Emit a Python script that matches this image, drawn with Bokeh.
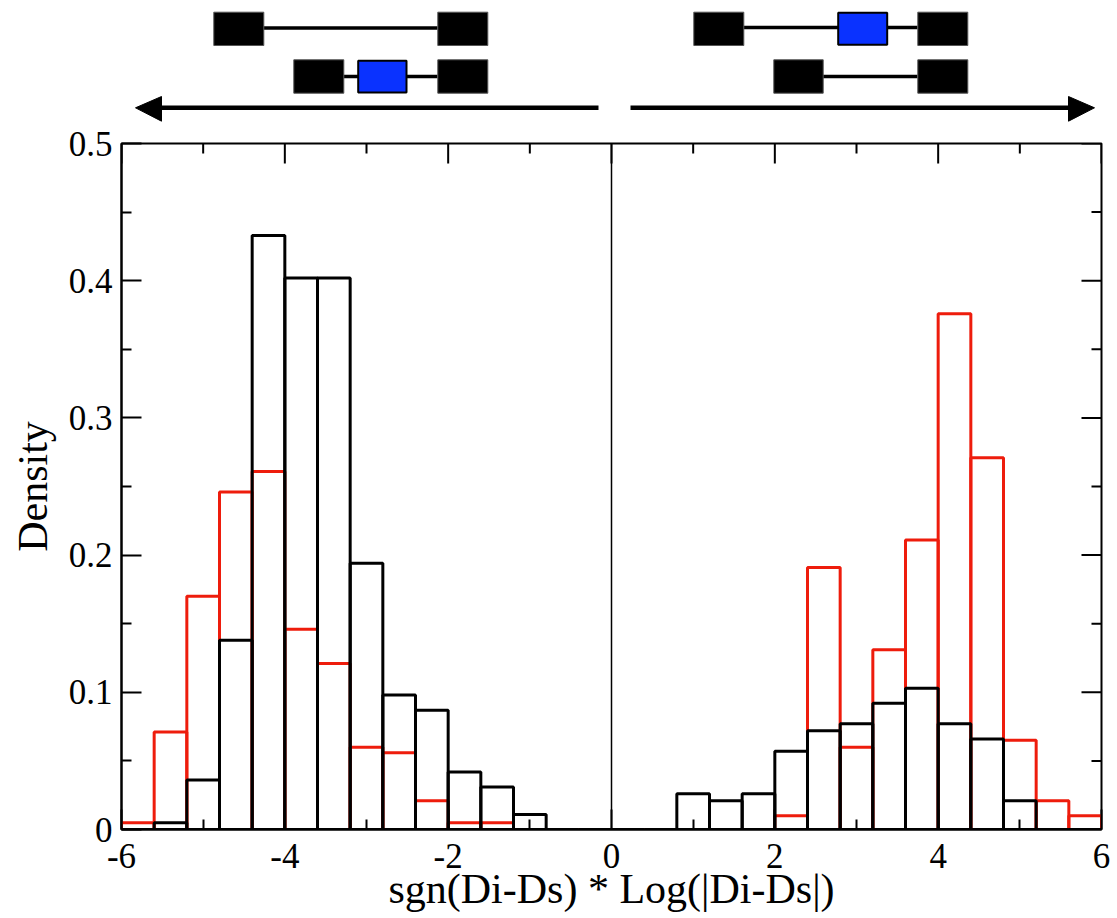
from bokeh.plotting import figure
from bokeh.models import Range1d, FixedTicker, Span
from bokeh.layouts import column
from bokeh.embed import file_html
from bokeh.resources import INLINE

# ---------------- data ----------------
bin_edges = [-6.0, -5.6, -5.2, -4.8, -4.4, -4.0, -3.6, -3.2, -2.8, -2.4, -2.0,
             -1.6, -1.2, -0.8, -0.4, 0.0, 0.4, 0.8, 1.2, 1.6, 2.0, 2.4, 2.8,
             3.2, 3.6, 4.0, 4.4, 4.8, 5.2, 5.6, 6.0]
black_density = [0.0, 0.005, 0.036, 0.138, 0.433, 0.402, 0.402, 0.194, 0.098,
                 0.087, 0.042, 0.031, 0.011, 0.0, 0.0,
                 0.0, 0.0, 0.026, 0.021, 0.026, 0.057, 0.072, 0.077, 0.092,
                 0.103, 0.077, 0.066, 0.021, 0.0, 0.0]
red_density = [0.005, 0.071, 0.170, 0.246, 0.261, 0.146, 0.121, 0.060, 0.056,
               0.021, 0.005, 0.005, 0.0, 0.0, 0.0,
               0.0, 0.0, 0.0, 0.0, 0.0, 0.010, 0.191, 0.060, 0.131,
               0.211, 0.376, 0.271, 0.065, 0.021, 0.010]

x_ticks = [-6, -4, -2, 0, 2, 4, 6]
x_tick_labels = ["-6", "-4", "-2", "0", "2", "4", "6"]
x_minor_ticks = [-5, -3, -1, 1, 3, 5]
y_ticks = [0.0, 0.1, 0.2, 0.3, 0.4, 0.5]
y_tick_labels = ["0", "0.1", "0.2", "0.3", "0.4", "0.5"]
y_minor_ticks = [0.05, 0.15, 0.25, 0.35, 0.45]
x_label = "sgn(Di-Ds) * Log(|Di-Ds|)"
y_label = "Density"

# ---------------- styles / layout ----------------
FONT = "Liberation Serif"
RED = "#ee1c0c"
BLUE = "#0a32ff"
W = 1113
HEAD_H = 122
MAIN_H = 796
FRAME_W = 980
FRAME_H = 686
MAJ_LEN = 20
MIN_LEN = 10

X0, X1 = -6, 6
Y0, Y1 = 0, 0.5

# ---------------- main plot ----------------
p = figure(width=W, height=MAIN_H, x_range=Range1d(X0, X1), y_range=Range1d(Y0, Y1),
           output_backend="svg", toolbar_location=None,
           min_border_left=121, min_border_right=W - 121 - FRAME_W,
           min_border_top=21, min_border_bottom=MAIN_H - 21 - FRAME_H,
           x_axis_label=x_label, y_axis_label=y_label)
p.grid.visible = False
p.outline_line_color = "black"
p.outline_line_width = 2
p.background_fill_color = "white"
p.border_fill_color = "white"

xt = FixedTicker(ticks=x_ticks, minor_ticks=x_minor_ticks)
yt = FixedTicker(ticks=y_ticks, minor_ticks=y_minor_ticks)


def style_axis(ax, ticker, labels, ticks):
    ax.ticker = ticker
    ax.major_tick_in = MAJ_LEN
    ax.major_tick_out = 0
    ax.minor_tick_in = MIN_LEN
    ax.minor_tick_out = 0
    ax.major_tick_line_width = 2
    ax.minor_tick_line_width = 2
    ax.major_tick_line_color = "black"
    ax.minor_tick_line_color = "black"
    ax.axis_line_color = "black"
    ax.axis_line_width = 2
    ax.major_label_text_font = FONT
    ax.major_label_text_color = "black"
    ax.major_label_text_font_size = "35px"
    ax.major_label_overrides = dict(zip(ticks, labels))
    ax.axis_label_text_font = FONT
    ax.axis_label_text_font_style = "normal"
    ax.axis_label_text_color = "black"
    ax.axis_label_text_font_size = "42px"


style_axis(p.xaxis[0], xt, x_tick_labels, x_ticks)
style_axis(p.yaxis[0], yt, y_tick_labels, y_ticks)
p.xaxis[0].major_label_standoff = 14
p.xaxis[0].axis_label_standoff = -5
p.yaxis[0].major_label_standoff = 9
p.yaxis[0].axis_label_standoff = 10

# mirrored inward ticks on top and right edges (lengths converted px -> data)
dy_maj = (Y1 - Y0) * MAJ_LEN / FRAME_H
dy_min = (Y1 - Y0) * MIN_LEN / FRAME_H
dx_maj = (X1 - X0) * MAJ_LEN / FRAME_W
dx_min = (X1 - X0) * MIN_LEN / FRAME_W
p.segment(x0=x_ticks, x1=x_ticks, y0=[Y1] * len(x_ticks), y1=[Y1 - dy_maj] * len(x_ticks),
          line_color="black", line_width=2)
p.segment(x0=x_minor_ticks, x1=x_minor_ticks, y0=[Y1] * len(x_minor_ticks),
          y1=[Y1 - dy_min] * len(x_minor_ticks), line_color="black", line_width=2)
p.segment(x0=[X1] * len(y_ticks), x1=[X1 - dx_maj] * len(y_ticks), y0=y_ticks, y1=y_ticks,
          line_color="black", line_width=2)
p.segment(x0=[X1] * len(y_minor_ticks), x1=[X1 - dx_min] * len(y_minor_ticks),
          y0=y_minor_ticks, y1=y_minor_ticks, line_color="black", line_width=2)

p.quad(left=bin_edges[:-1], right=bin_edges[1:], bottom=0, top=red_density,
       fill_alpha=0, line_color=RED, line_width=3)
p.quad(left=bin_edges[:-1], right=bin_edges[1:], bottom=0, top=black_density,
       fill_alpha=0, line_color="black", line_width=3)
p.add_layout(Span(location=0, dimension="height", line_color="black", line_width=1.5))

# ---------------- schematic header (page-pixel layout) ----------------
t = figure(width=W, height=HEAD_H, x_range=Range1d(121, 1101), y_range=Range1d(HEAD_H, 0),
           output_backend="svg", toolbar_location=None, min_border=0,
           x_axis_type=None, y_axis_type=None)
t.grid.visible = False
t.outline_line_color = None
t.background_fill_color = "white"
t.border_fill_color = "white"

# connector lines
t.segment(x0=[263, 343, 743, 822], y0=[27.5, 76, 27, 76],
          x1=[437, 437, 917, 917], y1=[27.5, 76, 27, 76],
          line_color="black", line_width=3.5)
# black exon boxes
t.quad(left=[213.3, 437.3, 293.3, 437.3, 693.3, 917.3, 773.3, 917.3],
       right=[263.3, 487.3, 343.3, 487.3, 743.3, 967.3, 822.7, 967.3],
       top=[11.7, 11.7, 59.3, 59.3, 11.7, 11.7, 59.3, 59.3],
       bottom=[45, 45, 92.7, 92.7, 45, 45, 92.7, 92.7],
       fill_color="black", line_color="#555555", line_width=1)
# blue alternative exon boxes
t.quad(left=[357.7, 837.7], right=[406.0, 886.7], top=[60.3, 12.3], bottom=[92.0, 44.3],
       fill_color=BLUE, line_color="black", line_width=2)
# arrows
t.segment(x0=[598, 630], y0=[107.3, 107.3], x1=[158, 1071], y1=[107.3, 107.3],
          line_color="black", line_width=4.5)
t.patches(xs=[[135, 161, 161], [1094, 1068, 1068]],
          ys=[[107.3, 96, 120.7], [107.3, 96, 120.7]],
          fill_color="black", line_color="black", line_width=1)

layout = column(t, p)
open("out.html", "w").write(file_html(layout, INLINE))
